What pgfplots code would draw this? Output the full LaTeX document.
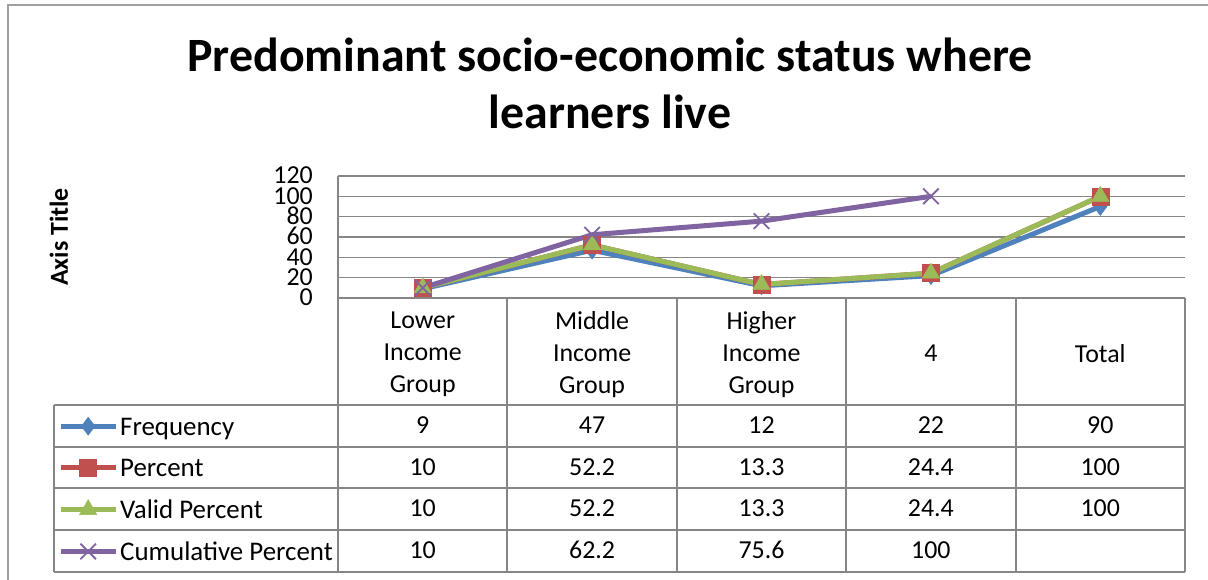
\documentclass[border=0pt]{standalone}
\usepackage{pgfplots}
\pgfplotsset{compat=1.18}
\usepackage{fontspec}
\setmainfont{Carlito}
\definecolor{cblue}{HTML}{4F81BD}
\definecolor{cred}{HTML}{C0504D}
\definecolor{cgreen}{HTML}{9BBB59}
\definecolor{cpurple}{HTML}{8064A2}
\definecolor{gridc}{HTML}{868686}
\definecolor{framec}{HTML}{A0A0A0}
\begin{document}
\begin{tikzpicture}[x=1bp,y=1bp]
\useasboundingbox (0,0) rectangle (1208,580);
\draw[line width=2bp, framec] (8,-40) rectangle (1250,575);
% title
\node[font=\fontsize{48}{57}\selectfont\bfseries, anchor=base] at (610,508) {Predominant socio-economic status where};
\node[font=\fontsize{48}{57}\selectfont\bfseries, anchor=base] at (610,451) {learners live};
% axis title
\node[rotate=90, font=\fontsize{26}{30}\selectfont\bfseries] at (59,343) {Axis Title};
\begin{axis}[
  at={(338bp,282bp)}, anchor=south west,
  width=847bp, height=122bp, scale only axis,
  xmin=0, xmax=5, ymin=0, ymax=120,
  ytick={0,20,...,120},
  hide x axis,
  axis y line*=left,
  y axis line style={gridc, line width=1.5bp, -},
  ymajorgrids,
  grid style={gridc, line width=1.5bp},
  major tick length=0pt,
  /pgf/number format/assume math mode=true,
  yticklabel style={font=\fontsize{26}{26}\selectfont, anchor=east, inner sep=0pt, xshift=-25bp, text height=16bp, text depth=0pt},
  clip=false,
  legend cell align=left,
  legend image code/.code={\draw[mark repeat=2,mark phase=2] plot coordinates {(0bp,0bp) (27.5bp,0bp) (55bp,0bp)};},
  legend style={at={(-0.3306,-0.959)}, anchor=north west, draw=none, fill=none, inner sep=0pt,
    row sep=19.75bp, column sep=2bp,
    nodes={inner sep=0pt, text height=20bp, text depth=2bp, font=\fontsize{27}{30}\selectfont}},
]
\addplot[cblue, line width=5bp, mark=diamond*, mark size=9bp, mark options={solid, fill=cblue, draw=cblue, line width=0.5bp}]
  coordinates {(0.5,9) (1.5,47) (2.5,12) (3.5,22) (4.5,90)};
\addplot[cred, line width=5bp, mark=square*, mark size=8.5bp, mark options={solid, fill=cred, draw=cred, line width=0.5bp}]
  coordinates {(0.5,10) (1.5,52.2) (2.5,13.3) (3.5,24.4) (4.5,100)};
\addplot[cgreen, line width=5bp, mark=triangle*, mark size=10bp, mark options={solid, fill=cgreen, draw=cgreen, line width=0.5bp}]
  coordinates {(0.5,10) (1.5,52.2) (2.5,13.3) (3.5,24.4) (4.5,100)};
\addplot[cpurple, line width=5bp, mark=x, mark size=11bp, mark options={solid, draw=cpurple, line width=1.8bp}]
  coordinates {(0.5,10) (1.5,62.2) (2.5,75.6) (3.5,100)};
\legend{Frequency, Percent, Valid Percent, Cumulative Percent}
\end{axis}
% data table grid
\begin{scope}[gridc, line width=2bp]
\draw (338,282) -- (1185,282);
\foreach \yy in {175,133,92,50,8} \draw (54,\yy) -- (1185,\yy);
\draw (54,175) -- (54,8);
\draw (338,282) -- (338,8);
\foreach \xx in {507.4,676.8,846.2,1015.6,1185} \draw (\xx,282) -- (\xx,8);
\end{scope}
% header
\begin{scope}[every node/.style={font=\fontsize{26}{32}\selectfont, align=center}]
\node at (422.7,225.5) {Lower\\Income\\Group};
\node at (592.1,225.5) {Middle\\Income\\Group};
\node at (761.5,225.5) {Higher\\Income\\Group};
\node at (930.9,226.5) {4};
\node at (1100.3,226.5) {Total};
\end{scope}
\begin{scope}[every node/.style={font=\fontsize{26}{30}\selectfont, anchor=base}]
\node at (422.7,146) {9};   \node at (592.1,146) {47};   \node at (761.5,146) {12};   \node at (930.9,146) {22};   \node at (1100.3,146) {90};
\node at (422.7,104.5) {10}; \node at (592.1,104.5) {52.2}; \node at (761.5,104.5) {13.3}; \node at (930.9,104.5) {24.4}; \node at (1100.3,104.5) {100};
\node at (422.7,63) {10};   \node at (592.1,63) {52.2};   \node at (761.5,63) {13.3};   \node at (930.9,63) {24.4};   \node at (1100.3,63) {100};
\node at (422.7,21) {10};   \node at (592.1,21) {62.2};   \node at (761.5,21) {75.6};   \node at (930.9,21) {100};
\end{scope}
\end{tikzpicture}
\end{document}
